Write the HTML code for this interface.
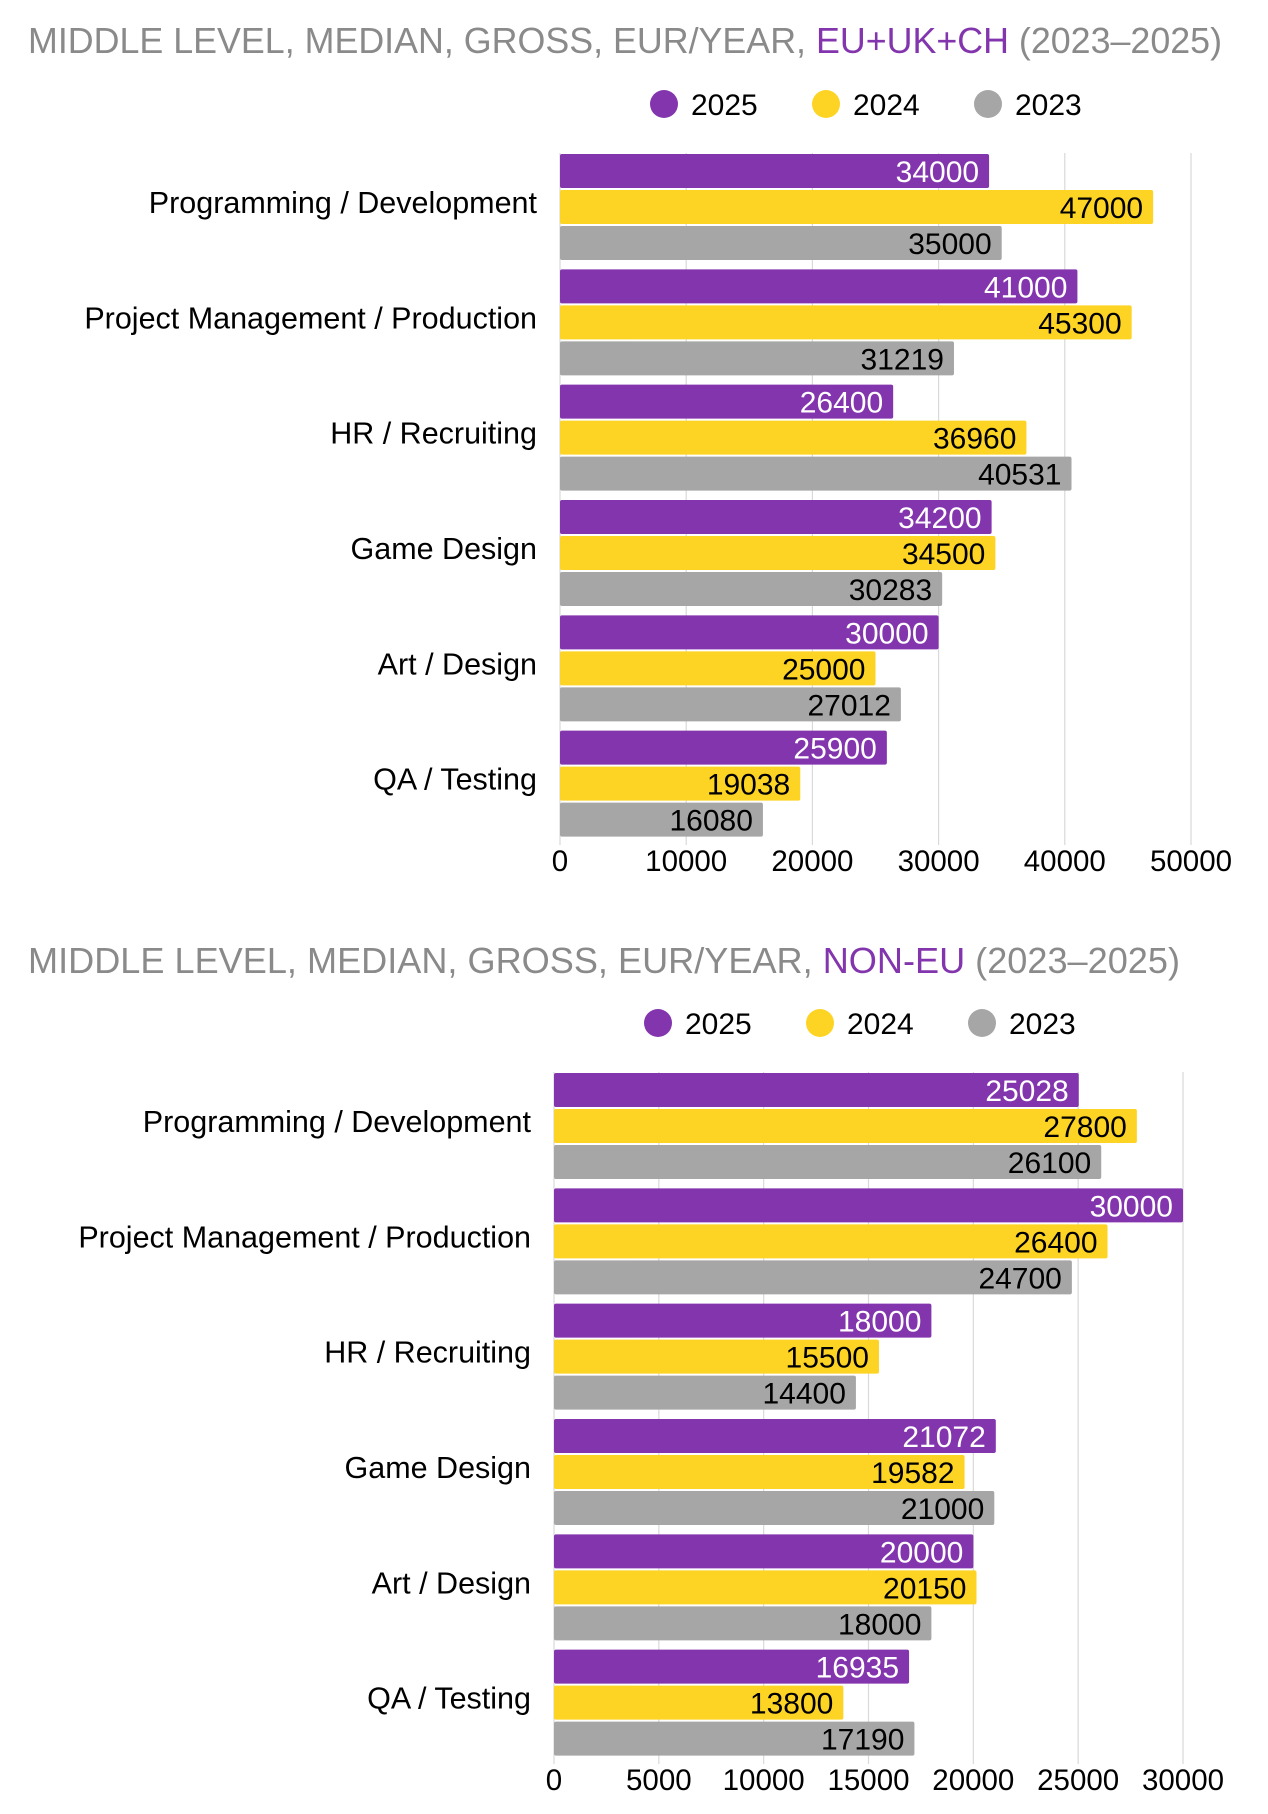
<!DOCTYPE html>
<html><head><meta charset="utf-8">
<style>
html,body{margin:0;padding:0;background:#fff;}
svg{display:block;font-family:"Liberation Sans",sans-serif;}
</style></head>
<body>
<svg id="chart" width="1268" height="1814" viewBox="0 0 1268 1814" xmlns="http://www.w3.org/2000/svg"></svg>
<script>
const categories = ["Programming / Development","Project Management / Production","HR / Recruiting","Game Design","Art / Design","QA / Testing"];
const years = ["2025","2024","2023"];
const eu2025 = [34000,41000,26400,34200,30000,25900];
const eu2024 = [47000,45300,36960,34500,25000,19038];
const eu2023 = [35000,31219,40531,30283,27012,16080];
const euTicks = [0,10000,20000,30000,40000,50000];
const non2025 = [25028,30000,18000,21072,20000,16935];
const non2024 = [27800,26400,15500,19582,20150,13800];
const non2023 = [26100,24700,14400,21000,18000,17190];
const nonTicks = [0,5000,10000,15000,20000,25000,30000];

const colors = ["#8335AD","#FDD424","#A6A6A6"];
const textColors = ["#fff","#000","#000"];
const NS = "http://www.w3.org/2000/svg";
const svg = document.getElementById('chart');
function mk(tag, attrs, parent){const e=document.createElementNS(NS,tag);for(const k in attrs)e.setAttribute(k,attrs[k]);(parent||svg).appendChild(e);return e;}

function drawChart(cfg){
  const g = mk('g',{});
  
  
  const t = mk('text',{x:28,y:cfg.titleY,'font-size':36,fill:'#8a8a8a',textLength:cfg.titleLen,lengthAdjust:'spacingAndGlyphs'},g);
  
  
  const s1=mk('tspan',{},t); s1.textContent="MIDDLE LEVEL, MEDIAN, GROSS, EUR/YEAR, ";
  const s2=mk('tspan',{fill:'#8335AD'},t); s2.textContent=cfg.region;
  const s3=mk('tspan',{},t); s3.textContent=" (2023–2025)";
  years.forEach((y,i)=>{
    const lg = mk('g',{},g);
    
    
    const cx = cfg.legX + i*162;
    mk('circle',{cx:cx,cy:cfg.legY,r:14,fill:colors[i]},lg);
    const lt = mk('text',{x:cx+27,y:cfg.legY+11,'font-size':30,fill:'#000'},lg);
    lt.textContent=y;
  });
  const maxV = cfg.ticks[cfg.ticks.length-1];
  const xs = v => cfg.x0 + (v/maxV)*(cfg.x1-cfg.x0);
  cfg.ticks.forEach(tk=>{
    const l = mk('line',{x1:xs(tk),x2:xs(tk),y1:cfg.top,y2:cfg.bottom,stroke:'#d9d9d9','stroke-width':1.2},g);
    
    
    const tl = mk('text',{x:xs(tk),y:cfg.tickY,'font-size':29.5,'text-anchor':'middle',fill:'#000'},g);
    
    
    tl.textContent=tk;
  });
  const pitch = (cfg.bottom-cfg.top)/categories.length;
  const barH = 34, step = 36;
  categories.forEach((c,ci)=>{
    const gy = cfg.top + ci*pitch + 1;
    const cl = mk('text',{x:cfg.labelX,y:gy+step+barH/2+6,'font-size':30.5,'text-anchor':'end',fill:'#000'},g);
    
    
    cl.textContent=c;
    cfg.series.forEach((arr,si)=>{
      const v = arr[ci];
      const y = gy + si*step;
      const r = mk('rect',{x:cfg.x0,y:y,width:xs(v)-cfg.x0,height:barH,fill:colors[si],rx:2},g);
      
      
      const vt = mk('text',{x:xs(v)-10,y:y+barH/2+11,'font-size':30,'text-anchor':'end',fill:textColors[si]},g);
      
      
      vt.textContent=v;
    });
  });
}

drawChart({name:'chart-eu', region:'EU+UK+CH', titleY:53, titleLen:1194, legX:664, legY:104,
  x0:560, x1:1191, top:153, bottom:845, tickY:871, labelX:537, ticks:euTicks, series:[eu2025,eu2024,eu2023]});
drawChart({name:'chart-non-eu', region:'NON-EU', titleY:973, titleLen:1152, legX:658, legY:1023,
  x0:554, x1:1183, top:1072, bottom:1764, tickY:1790, labelX:531, ticks:nonTicks, series:[non2025,non2024,non2023]});
</script>
</body></html>
